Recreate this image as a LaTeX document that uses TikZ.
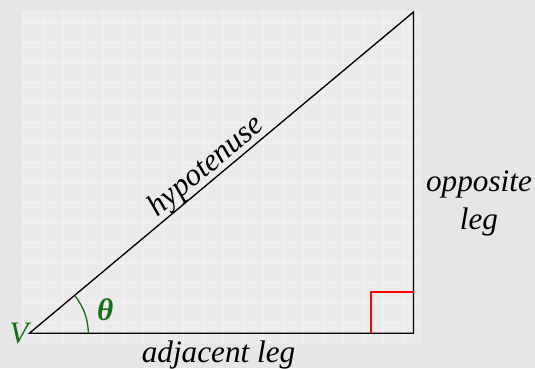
\documentclass[tikz,border=0pt]{standalone}
\usepackage{fontspec}
\setmainfont{Liberation Serif}
\usetikzlibrary{calc}
\definecolor{outerbg}{HTML}{E6E6E6}
\definecolor{innerbg}{HTML}{EBEBEB}
\definecolor{anglegreen}{RGB}{25,110,25}
\tikzset{
  leg/.style={draw=black, line width=1pt, line join=miter},
  rightmark/.style={draw=red, line width=1.2pt},
  anglearc/.style={draw=anglegreen, line width=1pt},
  lbl/.style={font=\fontsize{23.4}{28}\selectfont\itshape, inner sep=0pt},
  greenlbl/.style={lbl, text=anglegreen},
  gridline/.style={draw=white, line width=0.8pt, opacity=0.2},
  diagline/.style={draw=white, line width=0.6pt, opacity=0.15}
}
\begin{document}
\begin{tikzpicture}[x=0.75pt, y=0.75pt]
  % background
  \fill[outerbg] (0,0) rectangle (535,368);
  \useasboundingbox (0,0) rectangle (535,368);
  \fill[innerbg] (22,25) rectangle (421,358);
  \begin{scope}
    \clip (22,25) rectangle (421,358);
    \foreach \gx in {23,43,...,403} { \draw[gridline] (\gx,25) -- (\gx,358); }
    \foreach \gy in {25,45,...,345} { \draw[gridline] (22,\gy) -- (421,\gy); }
    \foreach \d in {-340,-300,...,420} { \draw[diagline] (\d,365) -- ++(345,-345); }
  \end{scope}
  % triangle
  \coordinate (V) at (29.3,34.7);
  \coordinate (R) at (413.5,34.7);
  \coordinate (T) at (413.5,356);
  \draw[leg] (V) -- (R) -- (T) -- cycle;
  % right-angle marker
  \coordinate (M1) at ($(R)+(-42.5,0)$);
  \coordinate (M2) at ($(R)+(-42.5,41.5)$);
  \coordinate (M3) at ($(R)+(0,41.5)$);
  \draw[rightmark] (M1) -- (M2) -- (M3);
  % angle arc
  \draw[anglearc] ($(V)+(59,0)$) arc[start angle=0, end angle=39.9, radius=59];
  % labels
  \node[greenlbl, anchor=base] (vlabel) at (19,25) {V};
  \node[greenlbl, anchor=base, font=\fontsize{23.4}{28}\selectfont\bfseries\itshape] (theta) at (105.3,48) {θ};
  \node[lbl, anchor=base] (adj) at (218.5,6) {adjacent leg};
  \node[lbl, anchor=base] (opp1) at (479,176) {opposite};
  \node[lbl, anchor=base] (opp2) at (479,138) {leg};
  \node[lbl, anchor=base, rotate=39.9] (hyp) at ($(V)!0.485!(T)+(-3.9,4.6)$) {hypotenuse};
\end{tikzpicture}
\end{document}
